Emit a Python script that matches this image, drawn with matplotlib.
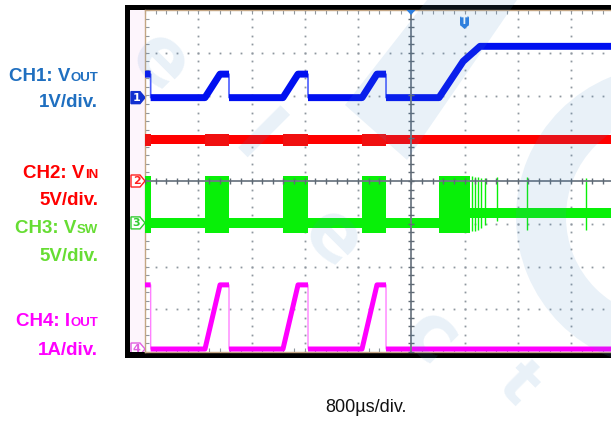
import numpy as np
import matplotlib
matplotlib.use('Agg')
import matplotlib.pyplot as plt
from matplotlib.patches import Polygon, Rectangle, Wedge, FancyBboxPatch
import matplotlib.transforms as mtransforms

W, H, DPI = 611, 421, 100

# ---------------- data (time in microseconds, 800 us/div) ----------------
time_per_div = 800
n_div_x = 10
n_div_y = 8

# CH1: VOUT, 1 V/div
ch1_t = [0, 85, 85, 901, 1127, 1262, 1262, 2073, 2299, 2449, 2449, 3260, 3485, 3621, 3621, 4417, 4780, 5033, 8000]
ch1_v = [0.55, 0.55, 0, 0, 0.55, 0.55, 0, 0, 0.55, 0.55, 0, 0, 0.55, 0.55, 0, 0, 0.85, 1.2, 1.2]
ch1_scale = 1.0
ch1_offset = 1.95

# CH2: VIN, 5 V/div
ch2_level = 4.8
ch2_halfwidth = 0.53
ch2_burst_halfwidth = 0.72
ch2_scale = 5.0
ch2_offset = 0.0

# switching bursts (shared by CH2 noise and CH3)
burst_start = [0, 901, 2073, 3260]
burst_end = [85, 1262, 2449, 3621]

# CH3: VSW, 5 V/div
ch3_scale = 5.0
ch3_offset = -0.98
ch3_burst_low = -1.2
ch3_burst_high = 5.5
ch3_idle_level = 0.0
ch3_idle_halfwidth = 0.55
ch3_reg_start = 4417
ch3_dense_end = 4880
ch3_reg_level = 1.15
ch3_reg_halfwidth = 0.6
ch3_spike_t = [4913, 4959, 5005, 5050, 5110, 5290, 5740, 6626]
ch3_spike_lo = [-0.9, -0.9, -0.8, -0.6, -0.3, 0.2, -0.8, -0.8]
ch3_spike_hi = [5.5, 5.4, 5.4, 5.3, 5.2, 5.4, 5.4, 5.3]

# CH4: IOUT, 1 A/div
ch4_t = [0, 85, 85, 901, 1127, 1262, 1262, 2073, 2299, 2449, 2449, 3260, 3485, 3621, 3621, 8000]
ch4_i = [1.5, 1.5, 0, 0, 1.5, 1.5, 0, 0, 1.5, 1.5, 0, 0, 1.5, 1.5, 0, 0]
ch4_scale = 1.0
ch4_offset = -3.93

trigger_time = 4800

labels = [
    ("CH1: V", "OUT", "1V/div.", '#1f6fc0'),
    ("CH2: V", "IN", "5V/div.", '#ff0000'),
    ("CH3: V", "SW", "5V/div.", '#66dd33'),
    ("CH4: I", "OUT", "1A/div.", '#ff00ff'),
]
label_baselines = [(81, 107), (178, 205), (233, 261), (326, 355)]
xlabel_text = "800µs/div."

# ---------------- figure ----------------
fig = plt.figure(figsize=(W / DPI, H / DPI), dpi=DPI)
fig.patch.set_facecolor('white')
pix = mtransforms.Affine2D().scale(1, -1).translate(0, H)
ident = mtransforms.IdentityTransform()

# scope frame
fig.add_artist(Rectangle((125, 5), 700, 353, transform=pix, facecolor='black', edgecolor='none', zorder=-3))
strip = Rectangle((130, 10), 15, 342, transform=pix, facecolor='#fdf5fc', edgecolor='none', zorder=-2)
fig.add_artist(strip)

ax = fig.add_axes([145 / W, (H - 352) / H, 532.5 / W, 342 / H])
ax.set_facecolor('white')
ax.set_xlim(0, n_div_x * time_per_div)
ax.set_ylim(-n_div_y / 2, n_div_y / 2)
for s in ax.spines.values():
    s.set_color('#c4a684')
    s.set_linewidth(1.0)
ax.set_xticks(np.arange(0, n_div_x * time_per_div + 1, time_per_div / 5))
ax.set_yticks(np.arange(-n_div_y / 2, n_div_y / 2 + 0.01, 0.2))
ax.tick_params(axis='both', direction='in', length=3, width=0.8, color='#8f979f',
               top=True, bottom=True, left=True, right=True,
               labelbottom=False, labelleft=False)

# graticule dots
ys = np.arange(-n_div_y / 2, n_div_y / 2 + 0.01, 0.2)
xs = np.arange(0, n_div_x * time_per_div + 1, time_per_div / 5)
for k in range(1, n_div_x):
    if k == n_div_x // 2:
        continue
    ax.plot(np.full_like(ys, k * time_per_div), ys, ls='none', marker='s', ms=1.3, mew=0,
            color='#8f979f', zorder=1)
for k in range(-n_div_y // 2 + 1, n_div_y // 2):
    if k == 0:
        continue
    ax.plot(xs, np.full_like(xs, k), ls='none', marker='s', ms=1.3, mew=0, color='#8f979f', zorder=1)


def split_nonvertical(t, v):
    xo, yo = [t[0]], [v[0]]
    for i in range(1, len(t)):
        if t[i] == t[i - 1]:
            xo.append(np.nan)
            yo.append(np.nan)
        xo.append(t[i])
        yo.append(v[i])
    return np.array(xo, float), np.array(yo, float)


# CH1
c1 = np.array(ch1_v) / ch1_scale + ch1_offset
ax.plot(ch1_t, c1, color='#4a5cff', lw=1.2, zorder=3)
tx, vy = split_nonvertical(ch1_t, c1)
ax.plot(tx, vy, color='#0010f0', lw=5.0, solid_capstyle='butt', zorder=3.1)

# CH2
c2 = ch2_level / ch2_scale + ch2_offset
ax.fill_between([0, n_div_x * time_per_div], c2 - ch2_halfwidth / ch2_scale, c2 + ch2_halfwidth / ch2_scale,
                color='#ff0000', lw=0, zorder=3)
for s0, s1 in zip(burst_start, burst_end):
    ax.fill_between([s0, s1], c2 - ch2_burst_halfwidth / ch2_scale, c2 + ch2_burst_halfwidth / ch2_scale,
                    color='#f01010', lw=0, zorder=3)

# CH3
gcol = '#08f008'
idle = ch3_idle_level / ch3_scale + ch3_offset
reg = ch3_reg_level / ch3_scale + ch3_offset
ax.fill_between([0, ch3_reg_start], idle - ch3_idle_halfwidth / ch3_scale, idle + ch3_idle_halfwidth / ch3_scale,
                color=gcol, lw=0, zorder=3)
ax.fill_between([ch3_reg_start, n_div_x * time_per_div], reg - ch3_reg_halfwidth / ch3_scale,
                reg + ch3_reg_halfwidth / ch3_scale, color=gcol, lw=0, zorder=3)
lo = ch3_burst_low / ch3_scale + ch3_offset
hi = ch3_burst_high / ch3_scale + ch3_offset
for s0, s1 in zip(burst_start + [ch3_reg_start], burst_end + [ch3_dense_end]):
    ax.fill_between([s0, s1], lo, hi, color=gcol, lw=0, zorder=3)
ax.vlines(ch3_spike_t, np.array(ch3_spike_lo) / ch3_scale + ch3_offset,
          np.array(ch3_spike_hi) / ch3_scale + ch3_offset, color=gcol, lw=1.0, zorder=3)

# CH4
c4 = np.array(ch4_i) / ch4_scale + ch4_offset
ax.plot(ch4_t, c4, color='#ff80ff', lw=1.0, zorder=3)
tx, vy = split_nonvertical(ch4_t, c4)
ax.plot(tx, vy, color='#ff00ff', lw=3.6, solid_capstyle='butt', zorder=3.1)

# center cross with ticks (drawn over traces)
ax.axvline(n_div_x * time_per_div / 2, color='#6f7a85', lw=1.3, zorder=5)
ax.axhline(0, color='#6f7a85', lw=1.3, zorder=5)
ax.plot(np.full_like(ys, n_div_x * time_per_div / 2), ys, ls='none', marker='_', ms=5, mew=1,
        color='#5f6a75', zorder=5)
ax.plot(xs, np.zeros_like(xs), ls='none', marker='|', ms=5, mew=1, color='#5f6a75', zorder=5)

# ---------------- channel markers on left strip ----------------
def marker(yc, num, face, edge, tcol):
    pts = [(131, yc - 6), (140, yc - 6), (145, yc), (140, yc + 6), (131, yc + 6)]
    p = Polygon(pts, closed=True, transform=pix, facecolor=face, edgecolor=edge, lw=1.0, zorder=2)
    fig.add_artist(p)
    p.set_clip_path(strip)
    t = fig.text(136.5, H - yc, num, transform=ident, ha='center', va='center',
                 fontsize=8, fontweight='bold', color=tcol, family='DejaVu Sans', zorder=2.5)
    t.set_clip_path(strip)


def data_to_pix_y(yd):
    return 181 - yd * 42.75


marker(data_to_pix_y(ch1_offset), '1', '#1230d0', '#1230d0', 'white')
marker(data_to_pix_y(ch2_offset), '2', 'white', '#ff2020', '#ff2020')
marker(data_to_pix_y(ch3_offset), '3', 'white', '#33cc33', '#33cc33')
marker(data_to_pix_y(ch4_offset), '4', 'white', '#e060e0', '#e060e0')

# top markers: center triangle and trigger "T"
fig.add_artist(Polygon([(406.5, 10), (415.5, 10), (411, 15)], transform=pix, facecolor='#2d7fe0',
                       edgecolor='none', zorder=2))
trig_x = 145 + trigger_time / time_per_div * 53.25
fig.add_artist(FancyBboxPatch((trig_x - 4.5, 16), 9, 10, boxstyle='round,pad=0,rounding_size=2',
                              transform=pix, facecolor='#2d7fe0', edgecolor='none', zorder=2))
fig.add_artist(Polygon([(trig_x - 4.5, 25), (trig_x + 4.5, 25), (trig_x, 29)], transform=pix,
                       facecolor='#2d7fe0', edgecolor='none', zorder=2))
fig.text(trig_x, H - 21.5, 'T', transform=ident, ha='center', va='center',
         fontsize=7, fontweight='bold', color='white', family='DejaVu Sans', zorder=2.5)

# ---------------- left labels ----------------
renderer = fig.canvas.get_renderer()
xr = 98
for (main, sub, scale_txt, col), (yb1, yb2) in zip(labels, label_baselines):
    ts = fig.text(xr, H - yb1, sub, transform=ident, ha='right', va='baseline',
                  fontsize=9.5, fontweight='bold', color=col, family='Liberation Sans')
    w = ts.get_window_extent(renderer).width
    fig.text(xr - w, H - yb1, main, transform=ident, ha='right', va='baseline',
             fontsize=13.5, fontweight='bold', color=col, family='Liberation Sans')
    fig.text(xr, H - yb2, scale_txt, transform=ident, ha='right', va='baseline',
             fontsize=13.5, fontweight='bold', color=col, family='Liberation Sans')

fig.text(366, H - 412, xlabel_text, transform=ident, ha='center', va='baseline',
         fontsize=13, color='#111111', family='Liberation Sans')

# ---------------- watermark (faint overlay) ----------------
wm_col = '#4b8eca'
wm_alpha = 0.12
wm_letters = "elect"
wm_pos = [(160, 62), (255, 141), (333, 238), (430, 338), (518, 384)]
wm_size = [56, 56, 56, 56, 46]
for ch, (cx, cy), fs in zip(wm_letters, wm_pos, wm_size):
    fig.text(cx, H - cy, ch, transform=ident, ha='center', va='center',
             rotation=-45, rotation_mode='anchor', fontsize=fs, fontweight='bold', family='DejaVu Sans',
             color=wm_col, alpha=wm_alpha, zorder=20)
fig.add_artist(Polygon([(427, 0), (517, 0), (407, 160), (345, 105)], transform=pix, facecolor=wm_col,
                       edgecolor='none', alpha=wm_alpha, zorder=20))
fig.add_artist(Wedge((667, 217), 151, 0, 360, width=50, transform=pix, facecolor=wm_col,
                     edgecolor='none', alpha=wm_alpha, zorder=20))

fig.savefig('out.png', dpi=DPI)
